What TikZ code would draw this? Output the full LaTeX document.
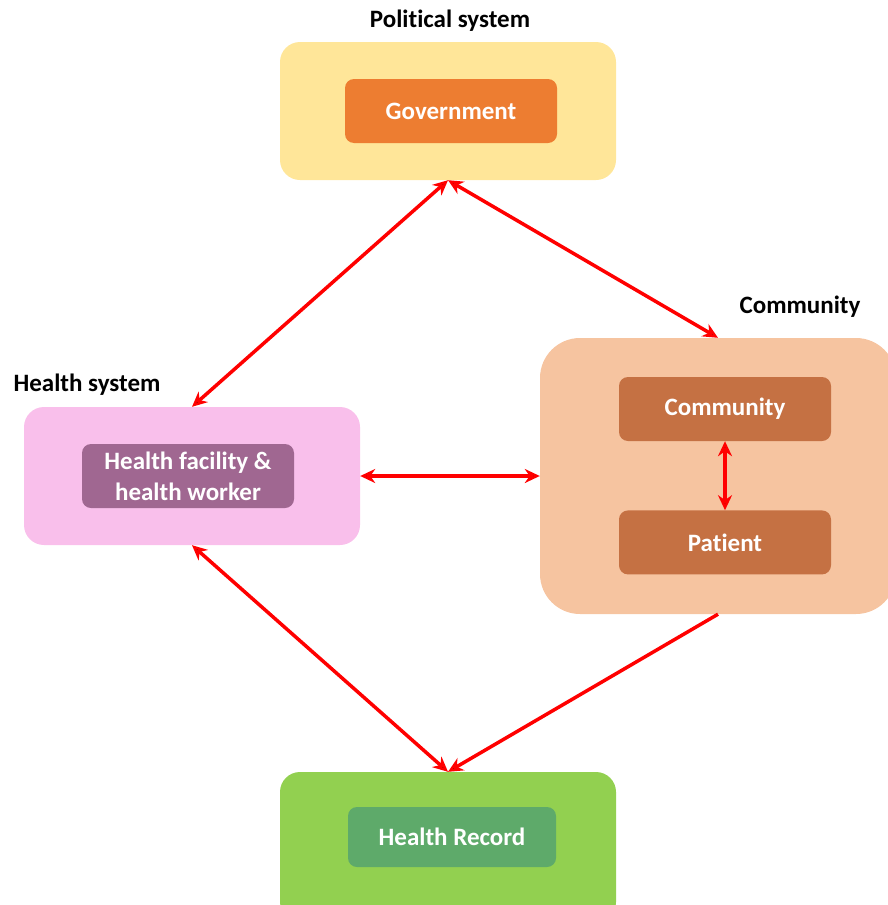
\documentclass[tikz,border=0pt]{standalone}
\usepackage{fontspec}
\setmainfont{Carlito}[Ligatures={NoCommon,NoRare,NoDiscretionary}]
\usepackage{xcolor}
\definecolor{polyellow}{RGB}{255,230,153}
\definecolor{govorange}{RGB}{237,125,49}
\definecolor{compeach}{RGB}{246,196,160}
\definecolor{combrown}{RGB}{197,113,67}
\definecolor{hspink}{RGB}{249,191,235}
\definecolor{hspurple}{RGB}{160,103,145}
\definecolor{hrgreen}{RGB}{146,208,80}
\definecolor{hrdark}{RGB}{94,170,106}
\usepackage{tikz}
\usetikzlibrary{positioning}
\usetikzlibrary{arrows.meta}
\tikzset{outer box/.style={rectangle,rounded corners=20pt,minimum width=336pt,minimum height=138pt,inner sep=0pt},
inner box/.style={rectangle,rounded corners=9pt,minimum width=212pt,minimum height=64pt,inner sep=0pt,text=white,align=center,font=\bfseries\fontsize{25}{31}\selectfont},
group label/.style={font=\bfseries\fontsize{25}{30}\selectfont},
link/.style={draw=red,line width=3.5pt},}

\begin{document}
\begin{tikzpicture}[x=1pt,y=-1pt,>={Stealth[length=15pt,width=14pt]}]
		\clip (0,0) rectangle (888,905);
		\node[outer box, fill=polyellow] (pol) at (448,111) {};
		\node[inner box, fill=govorange] (gov) at (451,111) {Government};
		\node[group label] (pollabel) at (450,21) {Political system};

		\node[outer box, fill=hspink] (hs) at (192,476) {};
		\node[inner box, fill=hspurple] (hf) at (188,476) {Health facility \&\\health worker};
		\node[group label] (hslabel) at (87,385) {Health system};

		\node[outer box, fill=compeach, minimum width=356pt, minimum height=276pt, rounded corners=40pt] (com) at (718,476) {};
		\node[inner box, fill=combrown] (cty) at (725,409) {Community};
		\node[inner box, fill=combrown] (pat) [below = 69pt of cty] {Patient};
		\node[group label] (comlabel) at (800,307) {Community};

		\node[outer box, fill=hrgreen, minimum height=150pt] (hr) at (448,847) {};
		\node[inner box, fill=hrdark, minimum width=208pt, minimum height=60pt] (rec) at (452,837) {Health Record};

	    \path[link]
	    (pol.south) edge [<->] (hs.north)
	    (pol.south) edge [<->] (com.north)
	    (hs.east) edge [<->] (com.west)
	    (cty.south) edge [<->] (pat.north)
	    (hs.south) edge [<->] (hr.north)
	    (com.south) edge [->] (hr.north);
	\end{tikzpicture}
\end{document}
